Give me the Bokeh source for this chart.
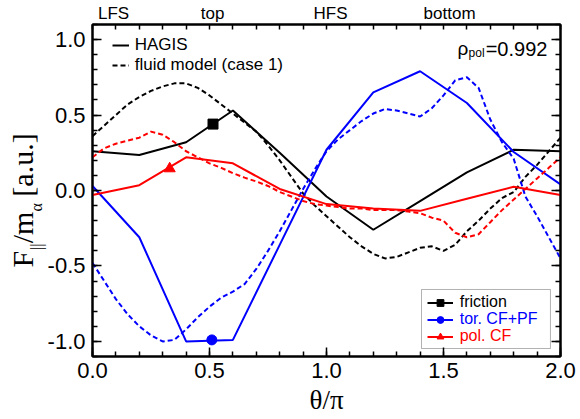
import math
from bokeh.plotting import figure
from bokeh.models import (Range1d, LinearAxis, FixedTicker, PrintfTickFormatter,
                          CustomJSTickFormatter, Legend, LegendItem, Label, BoxAnnotation, Title)
from bokeh.embed import file_html
from bokeh.resources import INLINE

# ---------------- data ----------------
theta_hagis = [0.0, 0.2, 0.4, 0.6, 0.8, 1.0, 1.2, 1.4, 1.6, 1.8, 2.0]
friction_hagis = [0.26, 0.235, 0.32, 0.53, 0.25, -0.04, -0.26, -0.07, 0.12, 0.27, 0.26]
tor_hagis = [0.03, -0.31, -1.0, -0.99, -0.36, 0.27, 0.65, 0.79, 0.58, 0.255, 0.04]
pol_hagis = [-0.03, 0.035, 0.22, 0.18, 0.01, -0.09, -0.12, -0.135, -0.055, 0.025, -0.03]

theta_fluid = [0.00, 0.05, 0.10, 0.15, 0.20, 0.25, 0.30, 0.35, 0.40, 0.45,
               0.50, 0.55, 0.60, 0.65, 0.70, 0.75, 0.80, 0.85, 0.90, 0.95,
               1.00, 1.05, 1.10, 1.15, 1.20, 1.25, 1.30, 1.35, 1.40, 1.45,
               1.50, 1.55, 1.60, 1.65, 1.70, 1.75, 1.80, 1.85, 1.90, 1.95, 2.00]
friction_fluid = [0.36, 0.43, 0.50, 0.57, 0.62, 0.66, 0.69, 0.71, 0.71, 0.68,
                  0.63, 0.57, 0.51, 0.45, 0.39, 0.30, 0.20, 0.09, -0.02, -0.10,
                  -0.17, -0.24, -0.31, -0.37, -0.42, -0.45, -0.44, -0.41, -0.38, -0.37,
                  -0.40, -0.36, -0.27, -0.20, -0.12, -0.05, -0.01, 0.09, 0.17, 0.26, 0.35]
tor_fluid = [-0.48, -0.60, -0.72, -0.82, -0.90, -0.96, -1.00, -0.99, -0.92, -0.84,
             -0.77, -0.71, -0.67, -0.62, -0.52, -0.40, -0.27, -0.13, 0.01, 0.14,
             0.26, 0.34, 0.40, 0.46, 0.51, 0.54, 0.53, 0.51, 0.49, 0.545,
             0.63, 0.73, 0.75, 0.68, 0.47, 0.32, 0.21, -0.04, -0.17, -0.31, -0.45]
pol_fluid = [0.22, 0.28, 0.31, 0.33, 0.35, 0.39, 0.37, 0.32, 0.26, 0.22,
             0.18, 0.15, 0.115, 0.085, 0.06, 0.03, -0.01, -0.04, -0.07, -0.09,
             -0.10, -0.11, -0.12, -0.12, -0.13, -0.13, -0.13, -0.14, -0.15, -0.18,
             -0.20, -0.28, -0.31, -0.29, -0.21, -0.13, -0.06, 0.01, 0.08, 0.15, 0.22]

friction_marker_theta = [0.515]
friction_marker_val = [0.44]
tor_marker_theta = [0.51]
tor_marker_val = [-0.99]
pol_marker_theta = [0.33]
pol_marker_val = [0.145]

x_major = [0.0, 0.5, 1.0, 1.5, 2.0]
y_major = [-1.0, -0.5, 0.0, 0.5, 1.0]
top_labels = ["LFS", "top", "HFS", "bottom"]
top_label_theta = [0.09, 0.513, 1.017, 1.526]

# ---------------- figure ----------------
p = figure(width=580, height=419, x_range=Range1d(0, 2), y_range=Range1d(-1.1, 1.1),
           output_backend="svg", toolbar_location=None,
           min_border_left=92, min_border_right=20, min_border_top=24, min_border_bottom=63)
p.grid.visible = False
p.outline_line_color = "black"
p.outline_line_width = 2
p.background_fill_color = "white"
p.border_fill_color = "white"

x_minor = [round(0.1 * i, 2) for i in range(0, 21)]
y_minor = [round(-1.1 + 0.1 * i, 2) for i in range(0, 23)]
xt = FixedTicker(ticks=x_major, minor_ticks=x_minor)
yt = FixedTicker(ticks=y_major, minor_ticks=y_minor)


def style_axis(ax, standoff=6, size="22px"):
    ax.axis_line_color = "black"
    ax.axis_line_width = 2
    ax.major_tick_in = 9
    ax.major_tick_out = 0
    ax.minor_tick_in = 5
    ax.minor_tick_out = 0
    ax.major_tick_line_width = 1.5
    ax.minor_tick_line_width = 1.5
    ax.major_tick_line_color = "black"
    ax.minor_tick_line_color = "black"
    ax.major_label_text_font = "Liberation Sans"
    ax.major_label_text_font_size = size
    ax.major_label_text_color = "black"
    ax.major_label_standoff = standoff


x_ax = p.below[0]
y_ax = p.left[0]
x_ax.ticker = xt
y_ax.ticker = yt
x_ax.formatter = PrintfTickFormatter(format="%.1f")
y_ax.formatter = PrintfTickFormatter(format="%.1f")
style_axis(x_ax, 6)
style_axis(y_ax, 7)
x_ax.axis_label = "θ/π"
x_ax.axis_label_text_font = "Liberation Serif"
x_ax.axis_label_text_font_size = "27px"
x_ax.axis_label_text_font_style = "normal"
x_ax.axis_label_text_color = "black"
x_ax.axis_label_standoff = 4

# y-axis label: subscripts as the axis label, main text as a vertical title
nb = "\u00a0"
y_ax.axis_label = "||" + nb * 8 + "α" + nb * 18
y_ax.axis_label_text_font = "Liberation Serif"
y_ax.axis_label_text_font_size = "16px"
y_ax.axis_label_text_font_style = "normal"
y_ax.axis_label_text_color = "black"
y_ax.axis_label_standoff = 0
main_t = Title(text="F" + nb + "/m" + nb + nb + "[a.u.]", align="left", offset=89,
               text_font="Liberation Serif", text_font_size="30px", text_font_style="normal",
               text_color="black", standoff=-28)
p.add_layout(main_t, "left")

# top axis: minor ticks on the frame + LFS/top/HFS/bottom labels
ax_top = LinearAxis(ticker=FixedTicker(ticks=top_label_theta, minor_ticks=x_minor),
                    formatter=CustomJSTickFormatter(args=dict(labels=top_labels),
                                                    code="return labels[index]"))
style_axis(ax_top, 2, "17px")
ax_top.major_tick_in = 0
p.add_layout(ax_top, "above")

# right axis: mirrored ticks, no labels
ax_right = LinearAxis(ticker=yt, formatter=CustomJSTickFormatter(code="return ''"))
style_axis(ax_right, 0)
p.add_layout(ax_right, "right")

# ---------------- curves ----------------
r_fric_h = p.line(theta_hagis, friction_hagis, line_color="black", line_width=2)
r_fric_f = p.line(theta_fluid, friction_fluid, line_color="black", line_width=2, line_dash="5 3")
r_tor_h = p.line(theta_hagis, tor_hagis, line_color="#0000ff", line_width=2)
r_tor_f = p.line(theta_fluid, tor_fluid, line_color="#0000ff", line_width=2, line_dash="5 3")
r_pol_h = p.line(theta_hagis, pol_hagis, line_color="#ff0000", line_width=2)
r_pol_f = p.line(theta_fluid, pol_fluid, line_color="#ff0000", line_width=2, line_dash="5 3")

m_fric = p.scatter(friction_marker_theta, friction_marker_val, marker="square", size=10,
                   fill_color="black", line_color="black")
m_tor = p.scatter(tor_marker_theta, tor_marker_val, marker="circle", size=10,
                  fill_color="#0000ff", line_color="#0000ff")
m_pol = p.scatter(pol_marker_theta, pol_marker_val, marker="triangle", size=11,
                  fill_color="#ff0000", line_color="#ff0000", angle=2.1)

# ---------------- legends ----------------
leg_model = Legend(items=[LegendItem(label="HAGIS", renderers=[r_fric_h]),
                          LegendItem(label="fluid model (case 1)", renderers=[r_fric_f])],
                   location=(19.7, 281))
leg_fric = Legend(items=[LegendItem(label="friction", renderers=[r_fric_h, m_fric])],
                  location=(334.7, 45))
leg_tor = Legend(items=[LegendItem(label="tor. CF+PF", renderers=[r_tor_h, m_tor])],
                 location=(334.7, 28))
leg_pol = Legend(items=[LegendItem(label="pol. CF", renderers=[r_pol_h, m_pol])],
                 location=(334.7, 11))

for lg, col, gw, so, fs in [(leg_model, "black", 17, 6, "17px"), (leg_fric, "black", 26, 7, "16px"),
                            (leg_tor, "#0000ff", 26, 7, "16px"), (leg_pol, "#ff0000", 26, 7, "16px")]:
    lg.border_line_color = None
    lg.background_fill_alpha = 0
    lg.padding = 0
    lg.margin = 0
    lg.spacing = 0
    lg.label_text_font = "Liberation Sans"
    lg.label_text_font_size = fs
    lg.label_text_color = col
    lg.glyph_width = gw
    lg.glyph_height = 20 if lg is leg_model else 17
    lg.label_height = 20 if lg is leg_model else 17
    lg.label_standoff = so

box = BoxAnnotation(left=1.406, right=1.957, top=-0.656, bottom=-1.047,
                    fill_color=None, line_color="black", line_width=1)
p.add_layout(box)
for lg in (leg_model, leg_fric, leg_tor, leg_pol):
    p.add_layout(lg)

# ---------------- rho label ----------------
p.add_layout(Label(x=1.560, y=0.939, text="ρ", text_align="left", text_baseline="alphabetic",
                   text_font="Liberation Sans", text_font_size="19px", text_color="black"))
p.add_layout(Label(x=1.607, y=0.914, text="pol", text_align="left", text_baseline="alphabetic",
                   text_font="Liberation Sans", text_font_size="12px", text_color="black"))
p.add_layout(Label(x=1.944, y=0.939, text="=0.992", text_align="right", text_baseline="alphabetic",
                   text_font="Liberation Sans", text_font_size="20px", text_color="black"))

open("out.html", "w").write(file_html(p, INLINE))
